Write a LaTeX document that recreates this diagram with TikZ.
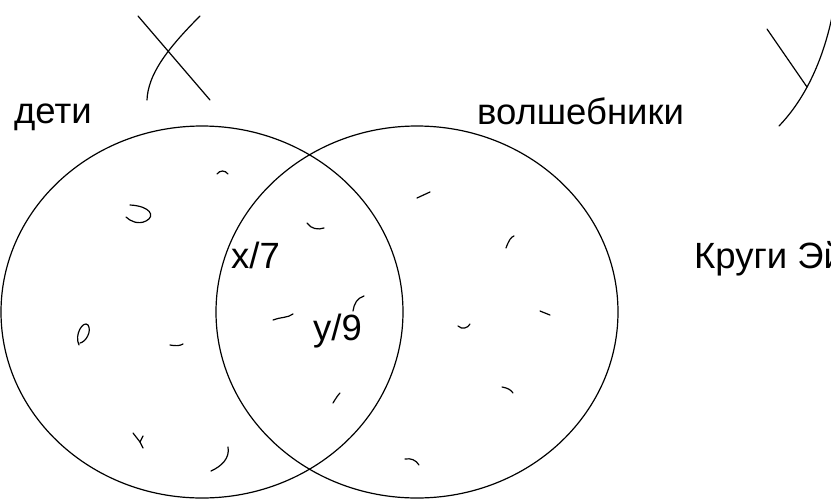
\documentclass[tikz,border=0pt]{standalone}
\usepackage{fontspec}
\setmainfont{Liberation Sans}
\usetikzlibrary{shapes.geometric}

\tikzset{
  set/.style={draw, ellipse, line width=1.2pt, inner sep=0pt,
    minimum width=402pt, minimum height=372pt},
  label/.style={anchor=base west, inner sep=0pt, font=\fontsize{36.5}{40}\selectfont},
  scribble/.style={line width=1.2pt, line cap=round}
}

\begin{document}
\begin{tikzpicture}[x=1pt, y=-1pt]
        \useasboundingbox (0,0) rectangle (831,499);
        \clip (0,0) rectangle (831,499);

        % Define Nodes
        \node[set] (kids) at (202,312) {};
        \node[set] (wizards) at (417,312) {};
        \node[label] (kidsname) at (14,123) {дети};
        \node[label] (wizname) at (477,124) {волшебники};
        \node[label] (title) at (694,268) {Круги Эйлера};
        \node[label] (xpart) at (231,268) {x/7};
        \node[label] (ypart) at (313,340) {y/9};

        % Hand strokes X and Y
        \draw[scribble] (138,16) -- (210,100);
        \draw[scribble] (200,16) .. controls (166,50) and (148,75) .. (147,100);
        \draw[scribble] (767,29) -- (807,87);
        \draw[scribble] (833,12) .. controls (824,58) and (806,98) .. (779,126);

        % Little marks
        \draw[scribble] (217,174) .. controls (220,170) and (225,170) .. (228,174);
        \draw[scribble] (130,205) .. controls (150,206) and (156,216) .. (146,221) .. controls (138,225) and (130,221) .. (126,217);
        \draw[scribble] (307,223) .. controls (311,229) and (318,230) .. (324,228);
        \draw[scribble] (79,345) .. controls (74,335) and (83,320) .. (88,325) .. controls (92,331) and (86,342) .. (80,343);
        \draw[scribble] (170,345) .. controls (175,346) and (180,346) .. (183,344);
        \draw[scribble] (133,433) -- (140,442) -- (143,448);
        \draw[scribble] (140,442) -- (143,436);
        \draw[scribble] (228,447) .. controls (230,458) and (222,466) .. (211,471);
        \draw[scribble] (273,320) .. controls (280,317) and (288,318) .. (293,314);
        \draw[scribble] (364,296) .. controls (357,298) and (354,304) .. (353,311);
        \draw[scribble] (333,403) .. controls (336,398) and (338,395) .. (340,393);
        \draw[scribble] (417,198) -- (430,192);
        \draw[scribble] (506,248) .. controls (509,240) and (511,237) .. (514,236);
        \draw[scribble] (458,326) .. controls (462,330) and (468,328) .. (470,324);
        \draw[scribble] (540,311) -- (550,315);
        \draw[scribble] (502,387) .. controls (508,388) and (511,390) .. (513,393);
        \draw[scribble] (405,459) .. controls (411,458) and (416,460) .. (419,465);
\end{tikzpicture}
\end{document}
